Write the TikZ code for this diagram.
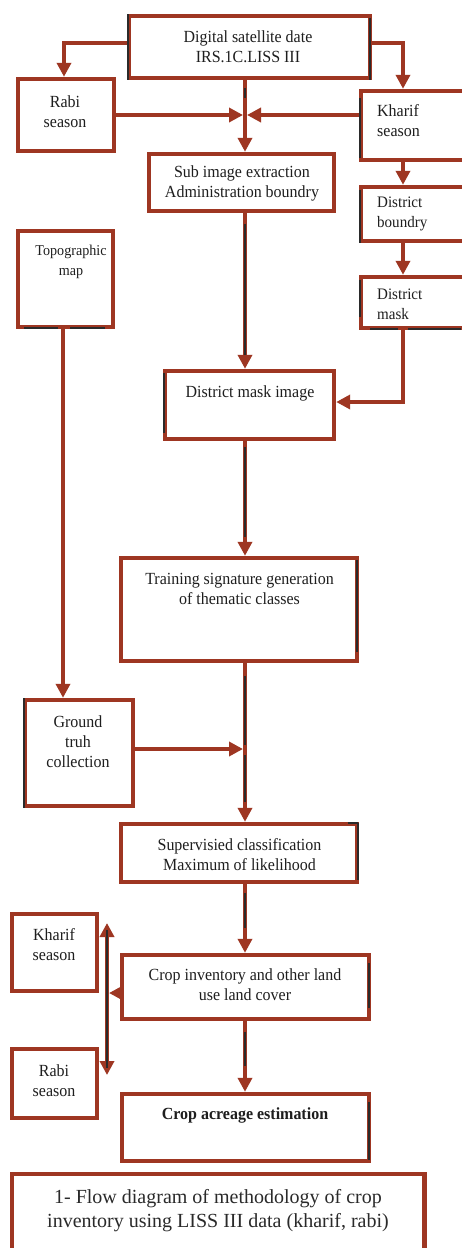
\documentclass[tikz,border=0pt]{standalone}
\usepackage{fontspec}
\setmainfont{Liberation Serif}
\newfontfamily\boxfont{Liberation Serif}[FakeStretch=0.94]
\usetikzlibrary{arrows.meta,calc}
\definecolor{brick}{RGB}{158,54,34}
\definecolor{inkc}{RGB}{42,42,42}
\definecolor{txtc}{RGB}{30,30,30}
\begin{document}
\begin{tikzpicture}[x=1pt,y=-1pt,
  box/.style={draw=brick,line width=4.4pt,inner sep=0pt,line join=miter},
  lbl/.style={font=\boxfont\fontsize{17}{20}\selectfont,text=txtc,align=center,inner sep=0pt},
  lbll/.style={lbl,align=left,anchor=west},
  arr/.style={draw=brick,line width=4pt,line join=miter,-{Triangle[length=14pt,width=14pt]}},
  inkln/.style={draw=inkc,line width=2.8pt},
  inkthin/.style={draw=inkc,line width=1.5pt}]
\useasboundingbox (0,0) rectangle (461,1248);
\fill[white] (0,0) rectangle (461,1248);

% boxes
\node[box,minimum width=241,minimum height=62] (top) at (249.5,47) {};
\node[box,minimum width=96,minimum height=72] (rabi) at (66,115) {};
\node[box,minimum width=109,minimum height=69] (kharifR) at (415.5,125.5) {};
\node[box,minimum width=185,minimum height=57] (sub) at (241.5,182.5) {};
\node[box,minimum width=109,minimum height=54] (dbound) at (415.5,214) {};
\node[box,minimum width=109,minimum height=51] (dmask) at (415.5,302.5) {};
\node[box,minimum width=95,minimum height=96] (topo) at (65.5,279) {};
\node[box,minimum width=169,minimum height=68] (dmi) at (249.5,405) {};
\node[box,minimum width=236,minimum height=103] (train) at (239,609.5) {};
\node[box,minimum width=108,minimum height=106] (ground) at (79,753) {};
\node[box,minimum width=236,minimum height=58] (super) at (239,853) {};
\node[box,minimum width=247,minimum height=64] (cropinv) at (245.5,987) {};
\node[box,minimum width=85,minimum height=77] (kharifL) at (54.5,952.5) {};
\node[box,minimum width=85,minimum height=69] (rabiL) at (54.5,1083.5) {};
\node[box,minimum width=247,minimum height=67] (cropac) at (245.5,1127.5) {};
\node[box,minimum width=412.5,minimum height=106] (caption) at (218.25,1227) {};

% texts
\node[lbl] (ttop) at (248,47) {Digital satellite date\\IRS.1C.LISS III};
\node[lbl] (trabi) at (65,112) {Rabi\\season};
\node[lbll] (tkharifR) at (377,121) {Kharif\\season};
\node[lbl] (tsub) at (242,183) {Sub image extraction\\Administration boundry};
\node[lbll,font=\boxfont\fontsize{16}{20}\selectfont] (tdbound) at (377,214) {District\\boundry};
\node[lbll,font=\boxfont\fontsize{16}{20}\selectfont] (tdmask) at (377,304) {District\\mask};
\node[lbl,font=\boxfont\fontsize{15}{20}\selectfont] (ttopo) at (71,262) {Topographic\\map};
\node[lbl] (tdmi) at (250,393) {District mask image};
\node[lbl] (ttrain) at (239.5,589) {Training signature generation\\of thematic classes};
\node[lbl] (tground) at (78,742) {Ground\\truh\\collection};
\node[lbl] (tsuper) at (239.5,855) {Supervisied classification\\Maximum of likelihood};
\node[lbl] (tcropinv) at (245,985) {Crop inventory and other land\\use land cover};
\node[lbl] (tkharifL) at (54,945) {Kharif\\season};
\node[lbl] (trabiL) at (54,1081) {Rabi\\season};
\node[lbl,font=\boxfont\bfseries\fontsize{17}{20}\selectfont] (tcropac) at (245,1115) {Crop acreage estimation};
\node[lbl,font=\fontsize{20}{24}\selectfont,text=inkc] (tcaption) at (218,1211) {1- Flow diagram of methodology of crop\\inventory using LISS III data (kharif, rabi)};

% helper coordinates
\coordinate (hub) at (245,115);
\coordinate (kx) at (403,0);
\coordinate (tx) at (63,0);
\coordinate (lx) at (107,993);
\coordinate (ltop) at (107,923);
\coordinate (lbot) at (107,1075);

% connectors
\draw[arr] ($(top.west)+(0,-4)$) -| ($(rabi.north)+(-2,0)$);
\draw[arr] ($(top.east)+(0,-4)$) -| (kx |- kharifR.north);
\draw[arr] (hub |- top.south) -- (hub |- sub.north);
\draw[arr] (rabi.east) -- ($(hub)+(-2,0)$);
\draw[arr] (kharifR.west |- hub) -- ($(hub)+(2,0)$);
\draw[arr] (kx |- kharifR.south) -- (kx |- dbound.north);
\draw[arr] (kx |- dbound.south) -- (kx |- dmask.north);
\draw[arr] (kx |- dmask.south) |- ($(dmi.east)+(0,-3)$);
\draw[arr] (hub |- sub.south) -- (hub |- dmi.north);
\draw[arr] (hub |- dmi.south) -- (hub |- train.north);
\draw[arr] (tx |- topo.south) -- (tx |- ground.north);
\draw[arr] (hub |- train.south) -- (hub |- super.north);
\draw[arr] ($(ground.east)+(0,-4)$) -- ($(ground.east -| hub)+(-2,-4)$);
\draw[arr] (hub |- super.south) -- (hub |- cropinv.north);
\draw[arr] (hub |- cropinv.south) -- (hub |- cropac.north);
\draw[arr] ($(cropinv.west)+(0,6)$) -- ($(lx)+(2,0)$);
\draw[arr] (lx) -- (ltop);
\draw[arr] (lx) -- (lbot);

% dark ink traces visible in the reference
\draw[inkln] (128,14) -- (128,80);
\draw[inkln] (370,18) -- (370,80);
\draw[inkln] (245,88) -- (245,98);
\draw[inkln] (245,224) -- (245,355);
\draw[inkln] (245,447) -- (245,537);
\draw[inkln] (245,676) -- (245,745);
\draw[inkln] (245,755) -- (245,802);
\draw[inkln] (245,893) -- (245,928);
\draw[inkln] (245,1032) -- (245,1066);
\draw[inkln] (360,98) -- (360,158);
\draw[inkln] (360,190) -- (360,243);
\draw[inkln] (360,280) -- (360,317);
\draw[inkln] (370,329) -- (398,329);
\draw[inkln] (408,329) -- (461,329);
\draw[inkln] (24,328) -- (58,328);
\draw[inkln] (70,328) -- (105,328);
\draw[inkln] (164,373) -- (164,433);
\draw[inkln] (357,560) -- (357,652);
\draw[inkln] (24,698) -- (24,808);
\draw[inkln] (358,823) -- (358,880);
\draw[inkln] (348,823) -- (358,823);
\draw[inkthin] (369,963) -- (369,1008);
\draw[inkthin] (369,1102) -- (369,1160);
\draw[inkln] (107,930) -- (107,1068);
\end{tikzpicture}
\end{document}
